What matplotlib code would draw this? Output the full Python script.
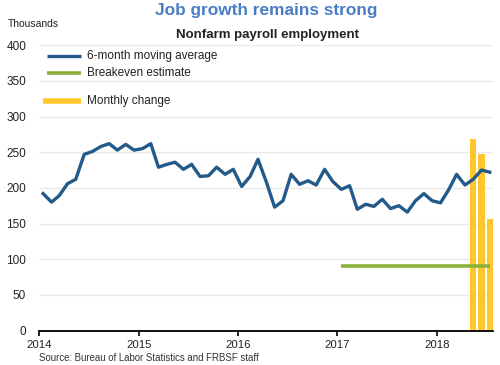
import pandas as pd
import numpy as np
import matplotlib
matplotlib.use("Agg")
import matplotlib.pyplot as plt
import matplotlib.dates as mdates

plt.rcParams['font.family'] = ['Liberation Sans', 'DejaVu Sans']

# 6-month moving average of payroll growth, thousands (Jan 2014 - Jul 2018)
moving_avg = [192, 180, 189, 206, 212, 247, 251, 258, 262, 253, 261, 253,
              255, 262, 229, 233, 236, 226, 233, 216, 217, 229, 219, 226,
              202, 216, 240, 208, 173, 182, 219, 205, 210, 204, 226, 209,
              198, 203, 170, 177, 174, 184, 171, 175, 166, 182, 192, 182,
              179, 198, 219, 204, 212, 225, 222]
avg_start = "2014-01"

# breakeven estimate, Jan 2017 - Jul 2018
breakeven = 90
breakeven_months = ["2017-01", "2018-07"]

# monthly change, May - Jul 2018
bar_months = ["2018-05", "2018-06", "2018-07"]
monthly_change = [268, 248, 157]

blue = "#245A8A"
green = "#8BB13A"
yellow = "#FFC72C"
dark = "#222222"

# plot each month at mid-month
avg_dates = pd.date_range(avg_start, periods=len(moving_avg), freq="MS") + pd.Timedelta(days=14)
bar_dates = pd.to_datetime(bar_months) + pd.Timedelta(days=14)
be_dates = pd.to_datetime(breakeven_months) + pd.Timedelta(days=14)

fig = plt.figure(figsize=(5, 3.65), dpi=100)
ax = fig.add_axes([0.0786, 0.0945, 0.9074, 0.7815])

ax.bar(bar_dates, monthly_change, width=23, color=yellow, zorder=2)
ax.plot(be_dates, [breakeven, breakeven], color=green, lw=2.6, zorder=3, solid_capstyle='butt')
ax.plot(avg_dates, moving_avg, color=blue, lw=2.4, zorder=4)

ax.set_ylim(0, 400)
ax.set_yticks(np.arange(0, 401, 50))
ax.set_xlim(pd.Timestamp("2014-01-01"), pd.Timestamp("2018-07-27"))
ax.xaxis.set_major_locator(mdates.YearLocator())
ax.xaxis.set_major_formatter(mdates.DateFormatter("%Y"))

ax.grid(axis='y', color="#EAEAEA", lw=1.0, zorder=0)
ax.set_axisbelow(True)
for s in ['top', 'right', 'left']:
    ax.spines[s].set_visible(False)
ax.spines['bottom'].set_color('black')
ax.spines['bottom'].set_linewidth(1.3)
ax.spines['bottom'].set_zorder(5)
ax.tick_params(axis='y', length=0, pad=9.5, labelsize=8.5, labelcolor=dark)
ax.tick_params(axis='x', length=3.5, width=1.2, pad=3, labelsize=8.2, labelcolor=dark, direction='out')

# legend drawn by hand (uneven spacing in original)
leg_labels = ["6-month moving average", "Breakeven estimate", "Monthly change"]
leg_colors = [blue, green, yellow]
leg_y = [0.9635, 0.9018, 0.8036]
leg_x0 = [0.0163, 0.0163, 0.0075]
leg_lw = [2.4, 2.6, 4.0]
for lab, c, yy, x0, lw in zip(leg_labels, leg_colors, leg_y, leg_x0, leg_lw):
    ax.plot([x0, 0.0919], [yy, yy], color=c, lw=lw, transform=ax.transAxes,
            solid_capstyle='butt', clip_on=False)
    ax.text(0.1058, yy, lab, transform=ax.transAxes, fontsize=8.5,
            color=dark, va='center', ha='left')

fig.text(0.533, 0.972, "Job growth remains strong", fontsize=12.4, fontweight='bold',
         color="#4A7DC4", ha='center', va='center')
fig.text(0.534, 0.904, "Nonfarm payroll employment", fontsize=9.5, fontweight='bold',
         color=dark, ha='center', va='center')
fig.text(0.016, 0.933, "Thousands", fontsize=7.5, color=dark, ha='left', va='center')
fig.text(0.0786, 0.018, "Source: Bureau of Labor Statistics and FRBSF staff",
         fontsize=6.9, color="#333333", ha='left', va='center')

fig.savefig("out.png", dpi=100)
